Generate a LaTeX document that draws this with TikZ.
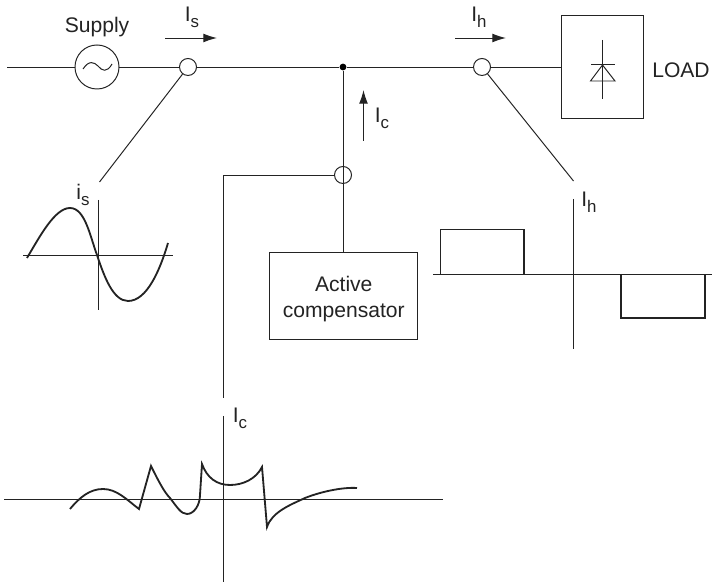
\documentclass[tikz,border=0pt]{standalone}
\usepackage{fontspec}
\setmainfont{Liberation Sans}
\usetikzlibrary{shapes, arrows.meta, positioning, calc}
\definecolor{inkGrey}{RGB}{35, 35, 35}
\newcommand{\cursub}[2]{#1\raisebox{-0.55ex}{\fontsize{12}{12}\selectfont #2}}
\begin{document}
\begin{tikzpicture}[
	x=0.025cm, y=-0.025cm,
	wire/.style        = {draw=inkGrey, line width=0.7pt},
	axis_line/.style   = {draw=inkGrey, line width=0.7pt},
	wave/.style        = {draw=inkGrey, line width=1.3pt, line join=miter},
	source_ring/.style = {circle, wire, minimum size=1.1cm, inner sep=0pt},
	sensor_ring/.style = {circle, wire, minimum size=0.425cm, inner sep=0pt},
	dot_node/.style    = {circle, fill=black, minimum size=0.17cm, inner sep=0pt},
	load_box/.style    = {rectangle, wire, minimum width=2.05cm, minimum height=2.55cm},
	comp_box/.style    = {rectangle, wire, minimum width=3.71cm, minimum height=2.15cm, align=center},
	label_text/.style  = {inner sep=0pt, text=inkGrey, font=\fontsize{15}{18.5}\selectfont},
	flow/.style        = {-{Latex[length=0.34cm, width=0.22cm]}, wire}
	]
	\useasboundingbox (0,0) rectangle (712,583);
	
	% bus line
	\coordinate (bus_in) at (7,67);
	\node[source_ring] (source) at (97,67) {};
	\node[sensor_ring] (sensor_s) at (188,67) {};
	\node[dot_node] (junction) at (343,67) {};
	\node[sensor_ring] (sensor_h) at (482,67) {};
	\node[load_box] (load) at (602,67) {};
	\draw[wire] (bus_in) -- (source);
	\draw[wire] (source) -- (sensor_s);
	\draw[wire] (sensor_s) -- (junction);
	\draw[wire] (junction) -- (sensor_h);
	\draw[wire] (sensor_h) -- (load);
	\draw[wire] (83,69) .. controls (89,60) and (94,62) .. (98,66) .. controls (102,71) and (107,73) .. (112,64);
	
	\node[label_text] (supply_label) at (97,27) {Supply};
	\node[label_text] (load_label) at (681,70) {LOAD};
	
	% diode in the load
	\draw[wire] (602.5,40) -- (602.5,99);
	\draw[wire] (591,64) -- (615,64);
	\draw[wire] (602.5,65) -- (590.5,81) -- (615,81) -- cycle;
	
	% current arrows
	\coordinate (arrow_s_a) at (165,38);
	\coordinate (arrow_s_b) at (217,38);
	\coordinate (arrow_h_a) at (455,38);
	\coordinate (arrow_h_b) at (506,38);
	\coordinate (arrow_c_a) at (363.5,141);
	\coordinate (arrow_c_b) at (363.5,90);
	\draw[flow] (arrow_s_a) -- (arrow_s_b);
	\draw[flow] (arrow_h_a) -- (arrow_h_b);
	\draw[flow] (arrow_c_a) -- (arrow_c_b);
	\node[label_text] (is_label) at (192,17) {\cursub{I}{s}};
	\node[label_text] (ih_label) at (479,17) {\cursub{I}{h}};
	\node[label_text] (ic_label) at (382,118) {\cursub{I}{c}};
	
	% compensator branch
	\node[sensor_ring] (sensor_c) at (343,175) {};
	\node[comp_box, label_text] (comp) at (343.75,296) {\rule{0pt}{15pt}Active\\compensator};
	\draw[wire] (junction) -- (comp.north -| junction);
	\coordinate (tap_c) at (223,398);
	\draw[wire] (sensor_c.west) -| (tap_c);
	
	% supply current waveform
	\coordinate (lead_s) at (99.5,182);
	\draw[wire] (sensor_s) -- (lead_s);
	\node[label_text] (is_plot_label) at (83,195) {\cursub{i}{s}};
	\draw[axis_line] (98,200) -- (98,310);
	\draw[axis_line] (23,255) -- (173,255);
	\draw[wave] (27,258) .. controls (40,236) and (55,208) .. (70,208)
		.. controls (85,208) and (90,236) .. (97,255)
		.. controls (104,276) and (113,301) .. (128,301)
		.. controls (147,301) and (160,270) .. (168,243);
	
	% load current waveform
	\coordinate (lead_h) at (573.5,181);
	\draw[wire] (sensor_h) -- (lead_h);
	\node[label_text] (ih_plot_label) at (589,202) {\cursub{I}{h}};
	\draw[axis_line] (573,199) -- (573,349);
	\draw[axis_line] (433,274) -- (712,274);
	\draw[wave] (440.5,274) -- (440.5,229.5) -- (524,229.5) -- (524,274);
	\draw[wave] (621,274) -- (621,318) -- (705,318) -- (705,274);
	
	% compensator current waveform
	\node[label_text] (ic_plot_label) at (240,418) {\cursub{I}{c}};
	\draw[axis_line] (223,416) -- (223,582);
	\draw[axis_line] (4,499) -- (443,499);
	\draw[wave] (70,509) .. controls (80,497) and (90,489) .. (103,489)
		.. controls (117,489) and (127,500) .. (139,509)
		-- (151,466)
		.. controls (158,480) and (164,492) .. (170,498)
		.. controls (177,507) and (181,514) .. (187,514)
		.. controls (194,514) and (200,505) .. (200,495)
		-- (202,464)
		.. controls (207,478) and (217,485) .. (230,485)
		.. controls (243,485) and (256,479) .. (262,467)
		-- (267,527)
		.. controls (272,512) and (290,505) .. (305,498)
		.. controls (320,492) and (342,487) .. (357,488);
\end{tikzpicture}
\end{document}
